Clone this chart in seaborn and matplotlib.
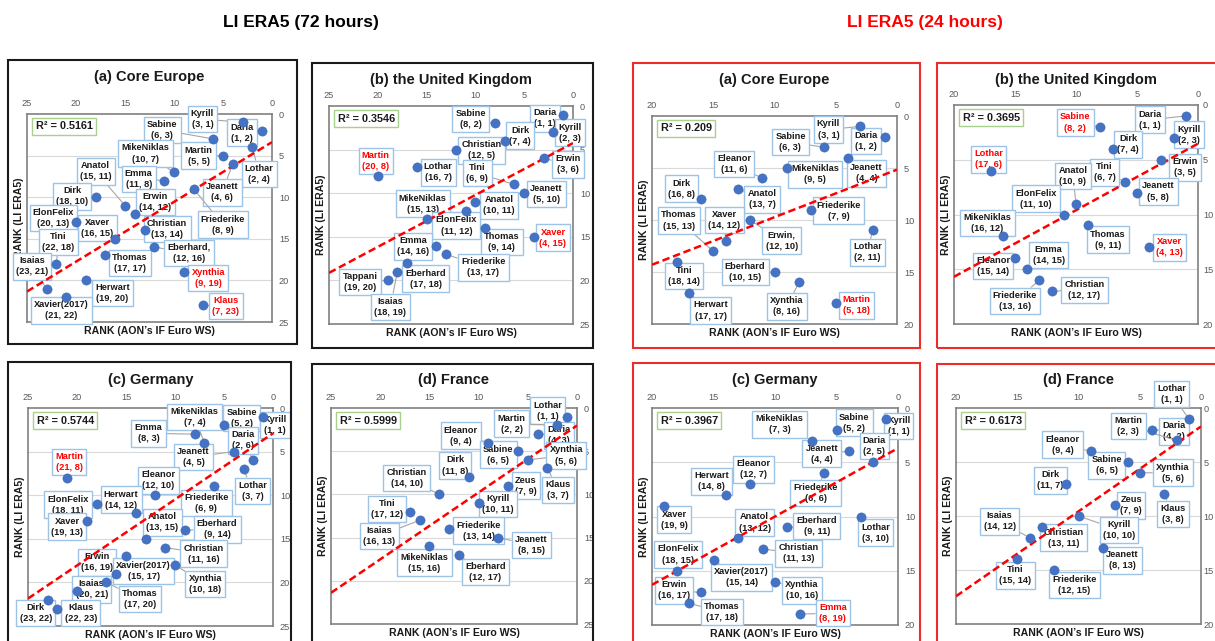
import matplotlib
matplotlib.use("Agg")
import matplotlib.pyplot as plt
from matplotlib.patches import Rectangle
import numpy as np
import pandas as pd
import seaborn as sns

sns.set_theme(style="white")
plt.rcParams["font.family"] = ["Liberation Sans", "DejaVu Sans"]

W, H = 1215, 641

# ---------------- 72-hour LI ERA5 ranks vs AON's IF Euro WS ranks ----------------
CE72_NAMES = ["Kyrill", "Daria", "Sabine", "Lothar", "MikeNiklas", "Martin", "Anatol", "Emma",
              "Jeanett", "Dirk", "Erwin", "ElonFelix", "Friederike", "Xaver", "Christian", "Tini",
              "Eberhard,", "Isaias", "Thomas", "Xynthia", "Herwart", "Xavier(2017)", "Klaus"]
CE72_AON = [3, 1, 6, 2, 10, 5, 15, 11, 4, 18, 14, 20, 8, 16, 13, 22, 12, 23, 17, 9, 19, 21, 7]
CE72_LI = [1, 2, 3, 4, 7, 5, 11, 8, 6, 10, 12, 13, 9, 15, 14, 18, 16, 21, 17, 19, 20, 22, 23]
CE72_RED = ["Xynthia", "Klaus"]
CE72_R2 = "0.5161"

UK72_NAMES = ["Daria", "Sabine", "Kyrill", "Dirk", "Christian", "Erwin", "Martin", "Lothar", "Tini",
              "Jeanett", "MikeNiklas", "Anatol", "ElonFelix", "Thomas", "Xaver", "Emma",
              "Friederike", "Tappani", "Eberhard", "Isaias"]
UK72_AON = [1, 8, 2, 7, 12, 3, 20, 16, 6, 5, 15, 10, 11, 9, 4, 14, 13, 19, 17, 18]
UK72_LI = [1, 2, 3, 4, 5, 6, 8, 7, 9, 10, 13, 11, 12, 14, 15, 16, 17, 20, 18, 19]
UK72_RED = ["Martin", "Xaver"]
UK72_R2 = "0.3546"

DE72_NAMES = ["MikeNiklas", "Sabine", "Kyrill", "Emma", "Daria", "Jeanett", "Martin", "Lothar",
              "Eleanor", "Herwart", "ElonFelix", "Friederike", "Xaver", "Anatol", "Eberhard",
              "Christian", "Erwin", "Xavier(2017)", "Xynthia", "Isaias", "Thomas", "Dirk", "Klaus"]
DE72_AON = [7, 5, 1, 8, 2, 4, 21, 3, 12, 14, 18, 6, 19, 13, 9, 11, 16, 15, 10, 20, 17, 23, 22]
DE72_LI = [4, 2, 1, 3, 6, 5, 8, 7, 10, 12, 11, 9, 13, 15, 14, 16, 19, 17, 18, 21, 20, 22, 23]
DE72_RED = ["Martin"]
DE72_R2 = "0.5744"

FR72_NAMES = ["Lothar", "Martin", "Daria", "Eleanor", "Sabine", "Xynthia", "Dirk", "Klaus",
              "Christian", "Zeus", "Kyrill", "Tini", "Isaias", "Friederike", "Jeanett",
              "MikeNiklas", "Eberhard"]
FR72_AON = [1, 2, 4, 9, 6, 5, 11, 3, 14, 7, 10, 17, 16, 13, 8, 15, 12]
FR72_LI = [1, 2, 3, 4, 5, 6, 8, 7, 10, 9, 11, 12, 13, 14, 15, 16, 17]
FR72_RED = []
FR72_R2 = "0.5999"

# ---------------- 24-hour LI ERA5 ranks vs AON's IF Euro WS ranks ----------------
CE24_NAMES = ["Kyrill", "Daria", "Sabine", "Eleanor", "MikeNiklas", "Jeanett", "Dirk", "Anatol",
              "Friederike", "Thomas", "Xaver", "Erwin,", "Lothar", "Tini", "Eberhard", "Herwart",
              "Xynthia", "Martin"]
CE24_AON = [3, 1, 6, 11, 9, 4, 16, 13, 7, 15, 14, 12, 2, 18, 10, 17, 8, 5]
CE24_LI = [1, 2, 3, 6, 5, 4, 8, 7, 9, 13, 12, 10, 11, 14, 15, 17, 16, 18]
CE24_RED = ["Martin"]
CE24_R2 = "0.209"

UK24_NAMES = ["Daria", "Sabine", "Kyrill", "Dirk", "Lothar", "Erwin", "Tini", "Anatol", "Jeanett",
              "ElonFelix", "MikeNiklas", "Thomas", "Xaver", "Emma", "Eleanor", "Christian",
              "Friederike"]
UK24_AON = [1, 8, 2, 7, 17, 3, 6, 10, 5, 11, 16, 9, 4, 14, 15, 12, 13]
UK24_LI = [1, 2, 3, 4, 6, 5, 7, 9, 8, 10, 12, 11, 13, 15, 14, 17, 16]
UK24_RED = ["Sabine", "Lothar", "Xaver"]
UK24_R2 = "0.3695"

DE24_NAMES = ["Kyrill", "Sabine", "MikeNiklas", "Jeanett", "Daria", "Friederike", "Eleanor",
              "Herwart", "Xaver", "Lothar", "Eberhard", "Anatol", "Christian", "Xavier(2017)",
              "ElonFelix", "Xynthia", "Erwin", "Thomas", "Emma"]
DE24_AON = [1, 5, 7, 4, 2, 6, 12, 14, 19, 3, 9, 13, 11, 15, 18, 10, 16, 17, 8]
DE24_LI = [1, 2, 3, 4, 5, 6, 7, 8, 9, 10, 11, 12, 13, 14, 15, 16, 17, 18, 19]
DE24_RED = ["Emma"]
DE24_R2 = "0.3967"

FR24_NAMES = ["Lothar", "Daria", "Martin", "Eleanor", "Sabine", "Xynthia", "Dirk", "Klaus", "Zeus",
              "Kyrill", "Christian", "Isaias", "Jeanett", "Tini", "Friederike"]
FR24_AON = [1, 4, 2, 9, 6, 5, 11, 3, 7, 10, 13, 14, 8, 15, 12]
FR24_LI = [1, 2, 3, 4, 5, 6, 7, 8, 9, 10, 11, 12, 13, 14, 15]
FR24_RED = []
FR24_R2 = "0.6173"

# ---------------- label box centres (data coordinates), same order as the names ----------------
CE72_LABEL_AT = [(7.1, 0.6), (3.1, 2.25), (11.2, 1.9), (1.3, 7.2), (12.9, 4.75), (7.5, 5.0),
                 (18.0, 6.9), (13.6, 7.8), (5.1, 9.4), (20.4, 9.9), (11.9, 10.6), (22.3, 12.5),
                 (5.0, 13.3), (17.8, 13.7), (10.7, 13.8), (21.8, 15.4), (8.5, 16.7), (24.5, 18.3),
                 (14.5, 17.9), (6.5, 19.7), (16.3, 21.5), (21.5, 23.6), (4.7, 23.1)]
UK72_LABEL_AT = [(2.9, 1.4), (10.5, 1.5), (0.3, 3.05), (5.4, 3.4), (9.4, 5.07), (0.55, 6.7),
                 (20.2, 6.3), (13.8, 7.6), (9.8, 7.7), (2.7, 10.1), (15.4, 11.2), (7.55, 11.4),
                 (11.95, 13.7), (7.3, 15.6), (2.05, 15.1), (16.4, 16.1), (9.2, 18.5),
                 (21.8, 20.2), (15.1, 19.8), (18.7, 23.05)]
DE72_LABEL_AT = [(8.0, 1.05), (3.2, 1.15), (-0.2, 1.95), (12.7, 2.9), (3.1, 3.7), (8.1, 5.6),
                 (20.8, 6.2), (2.1, 9.5), (11.7, 8.3), (15.5, 10.5), (20.9, 11.1), (6.8, 10.9),
                 (21.0, 13.6), (11.3, 13.1), (5.7, 13.9), (7.1, 16.7), (17.95, 17.7),
                 (13.2, 18.7), (6.9, 20.2), (18.5, 20.8), (13.6, 21.9), (24.2, 23.5), (19.6, 23.5)]
FR72_LABEL_AT = [(3.0, 0.3), (6.65, 1.8), (1.8, 3.15), (11.8, 3.2), (8.0, 5.4), (1.1, 5.5),
                 (12.4, 6.65), (1.9, 9.5), (17.3, 8.1), (5.2, 9.0), (8.0, 11.1), (19.3, 11.7),
                 (20.1, 14.8), (10.0, 14.2), (4.65, 15.85), (15.5, 17.9), (9.3, 19.0)]
CE24_LABEL_AT = [(5.6, 1.3), (2.5, 2.4), (8.7, 2.5), (13.3, 4.6), (6.7, 5.6), (2.5, 5.5),
                 (17.6, 7.0), (11.0, 8.0), (4.76, 9.1), (17.8, 10.05), (14.1, 10.0), (9.4, 12.0),
                 (2.4, 13.1), (17.4, 15.4), (12.4, 15.0), (15.2, 18.7), (9.0, 18.3), (3.3, 18.2)]
UK24_LABEL_AT = [(3.94, 1.35), (10.06, 1.6), (0.74, 2.7), (5.74, 3.6), (17.16, 4.96), (1.1, 5.7),
                 (7.65, 6.15), (10.25, 6.5), (3.25, 7.9), (13.28, 8.55), (17.27, 10.76),
                 (7.4, 12.3), (2.35, 13.0), (12.24, 13.7), (16.8, 14.7), (9.3, 16.9), (15.0, 17.9)]
DE24_LABEL_AT = [(-0.05, 1.66), (3.55, 1.35), (9.62, 1.5), (6.2, 4.2), (1.92, 3.5), (6.7, 7.85),
                 (11.76, 5.65), (15.15, 6.75), (18.2, 10.3), (1.84, 11.5), (6.6, 10.86),
                 (11.65, 10.55), (8.1, 13.4), (12.7, 15.6), (17.86, 13.5), (7.83, 16.8),
                 (18.2, 16.8), (14.3, 18.8), (5.3, 18.9)]
FR24_LABEL_AT = [(2.4, -1.3), (2.2, 2.15), (5.93, 1.66), (11.3, 3.4), (7.7, 5.3), (2.3, 6.0),
                 (12.3, 6.7), (2.3, 9.8), (5.7, 9.0), (6.7, 11.3), (11.2, 12.0), (16.44, 10.5),
                 (6.4, 14.1), (15.14, 15.5), (10.35, 16.4)]

BLUE = "#4472c4"
RED = "#ff0000"
BOX_EDGE = "#9dc3e6"

fig = plt.figure(figsize=(W / 100, H / 100), dpi=100)
fig.patch.set_facecolor("white")


def px_rect(l, t, r, b):
    return [l / W, 1 - b / H, (r - l) / W, (b - t) / H]


def draw_panel(title, names, aon, li, red, label_at, r2, vmax, plot_px, frame_px, frame_color,
               title_y, ytick_pad=5):
    l, t, r, b = plot_px
    ax = fig.add_axes(px_rect(l, t, r, b))
    df = pd.DataFrame({"aon": aon, "li": li, "name": names})
    ax.set_xlim(vmax, 0)
    ax.set_ylim(vmax, 0)

    for v in range(5, vmax, 5):
        ax.axhline(v, color="#d9d9d9", lw=0.8, zorder=0)

    sns.regplot(data=df, x="aon", y="li", ax=ax, scatter=False, ci=None, truncate=False,
                line_kws=dict(color=RED, lw=1.8, ls=(0, (3, 1.5)), zorder=4))
    sns.scatterplot(data=df, x="aon", y="li", ax=ax, s=44, color=BLUE, edgecolor="#3a64b0",
                    linewidth=0.4, zorder=5, legend=False)

    for n, x, y, (lx, ly) in zip(names, aon, li, label_at):
        c = RED if n in red else "#1a1a1a"
        ax.annotate(f"{n}\n({x}, {y})", xy=(x, y), xytext=(lx, ly), textcoords="data",
                    ha="center", va="center", fontsize=6.7, fontweight="bold", color=c,
                    linespacing=1.3, annotation_clip=False, zorder=3,
                    bbox=dict(boxstyle="square,pad=0.35", fc="white", ec=BOX_EDGE, lw=1.0),
                    arrowprops=dict(arrowstyle="-", color="#a6a6a6", lw=0.8, shrinkA=0, shrinkB=3))

    ax.text(0.035, 0.965, f"R² = {r2}", transform=ax.transAxes, ha="left", va="top",
            fontsize=7.8, fontweight="bold", color="#1a1a1a", zorder=6,
            bbox=dict(boxstyle="square,pad=0.3", fc="white", ec="#a9d18e", lw=1.0))

    ticks = list(range(0, vmax + 1, 5))
    ax.set_xticks(ticks)
    ax.set_yticks(ticks)
    ax.xaxis.tick_top()
    ax.yaxis.tick_right()
    ax.tick_params(length=0, labelsize=6.6, labelcolor="#595959")
    ax.tick_params(axis="x", pad=4)
    ax.tick_params(axis="y", pad=ytick_pad)
    ax.set_xlim(vmax, 0)
    ax.set_ylim(vmax, 0)

    ax.set_xlabel("RANK (AON’s IF Euro WS)", fontsize=7.6, fontweight="bold", color="#1a1a1a",
                  labelpad=3)
    ax.xaxis.set_label_position("bottom")
    ax.set_ylabel("RANK (LI ERA5)", fontsize=7.6, fontweight="bold", color="#1a1a1a", labelpad=2)
    ax.yaxis.set_label_position("left")

    for sp in ax.spines.values():
        sp.set_visible(True)
        sp.set_color("#808080")
        sp.set_linewidth(1.2)

    fig.text((l + r) / 2 / W, 1 - title_y / H, title, ha="center", va="center",
             fontsize=10.5, fontweight="bold", color="#1a1a1a")

    fl, ft, fr, fb = frame_px
    fig.add_artist(Rectangle((fl / W, 1 - fb / H), (fr - fl) / W, (fb - ft) / H,
                             transform=fig.transFigure, fill=False, ec=frame_color, lw=1.5))
    return ax


BLACK_FRAME = "#1a1a1a"
RED_FRAME = "#ee2b2b"

draw_panel("(a) Core Europe", CE72_NAMES, CE72_AON, CE72_LI, CE72_RED, CE72_LABEL_AT, CE72_R2, 25,
           (27, 114, 272, 322), (8, 60, 297, 344), BLACK_FRAME, 77)
draw_panel("(b) the United Kingdom", UK72_NAMES, UK72_AON, UK72_LI, UK72_RED, UK72_LABEL_AT, UK72_R2, 25,
           (329, 106, 573, 324), (312, 63, 593, 348), BLACK_FRAME, 80)
draw_panel("(c) Germany", DE72_NAMES, DE72_AON, DE72_LI, DE72_RED, DE72_LABEL_AT, DE72_R2, 25,
           (28, 408, 273, 626), (8, 362, 291, 660), BLACK_FRAME, 380)
draw_panel("(d) France", FR72_NAMES, FR72_AON, FR72_LI, FR72_RED, FR72_LABEL_AT, FR72_R2, 25,
           (331, 408, 577, 624), (312, 364, 593, 660), BLACK_FRAME, 380)

draw_panel("(a) Core Europe", CE24_NAMES, CE24_AON, CE24_LI, CE24_RED, CE24_LABEL_AT, CE24_R2, 20,
           (652, 116, 897, 324), (633, 63, 920, 348), RED_FRAME, 80)
draw_panel("(b) the United Kingdom", UK24_NAMES, UK24_AON, UK24_LI, UK24_RED, UK24_LABEL_AT, UK24_R2, 20,
           (954, 105, 1198, 324), (937, 63, 1230, 348), RED_FRAME, 80, ytick_pad=3.5)
draw_panel("(c) Germany", DE24_NAMES, DE24_AON, DE24_LI, DE24_RED, DE24_LABEL_AT, DE24_R2, 20,
           (652, 408, 898, 625), (633, 363, 920, 660), RED_FRAME, 380)
draw_panel("(d) France", FR24_NAMES, FR24_AON, FR24_LI, FR24_RED, FR24_LABEL_AT, FR24_R2, 20,
           (956, 408, 1201, 624), (937, 364, 1230, 660), RED_FRAME, 380, ytick_pad=2)

fig.text(301 / W, 1 - 22 / H, "LI ERA5 (72 hours)", ha="center", va="center",
         fontsize=12.5, fontweight="bold", color="#000000")
fig.text(925 / W, 1 - 22 / H, "LI ERA5 (24 hours)", ha="center", va="center",
         fontsize=12.5, fontweight="bold", color=RED)

fig.savefig("out.png", dpi=100, facecolor="white")
